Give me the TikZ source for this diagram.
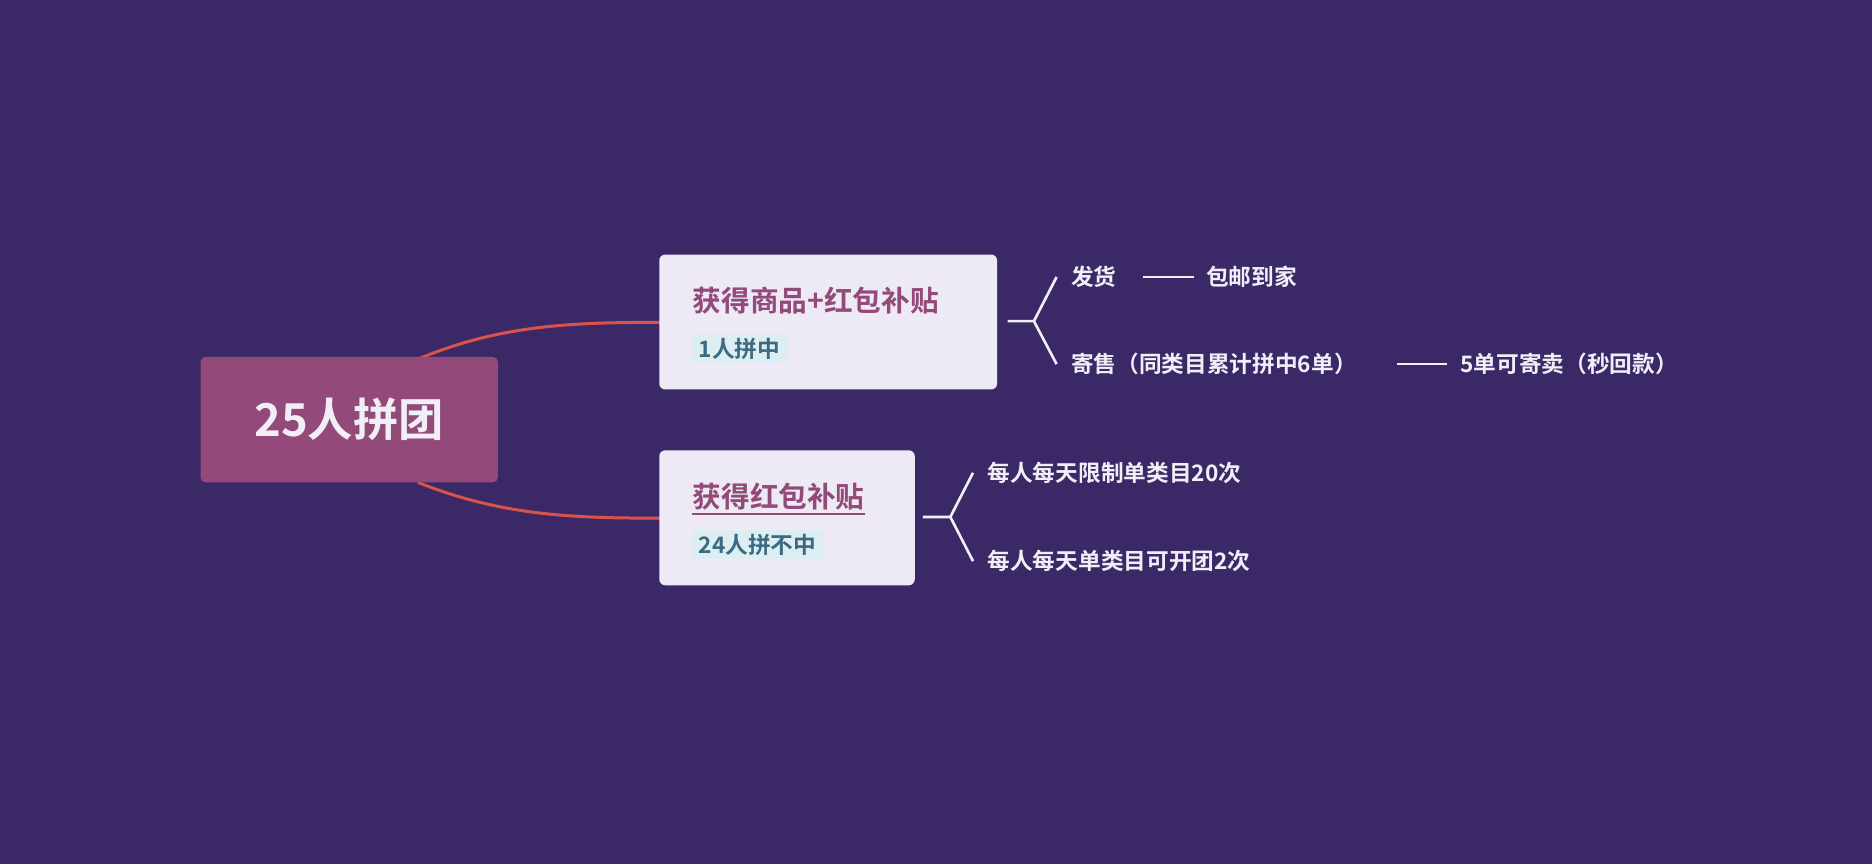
\documentclass[tikz,border=0pt]{standalone}
\usepackage{fontspec}
\setmainfont{Noto Sans CJK SC}[BoldFont={* Bold}]
\definecolor{bg}{HTML}{3A2966}
\definecolor{rootc}{HTML}{934A7A}
\definecolor{boxc}{HTML}{EDE9F5}
\definecolor{tagc}{HTML}{DCEEF2}
\definecolor{tagt}{HTML}{3C6A82}
\definecolor{linec}{HTML}{D9534A}
\definecolor{leaf}{HTML}{F2EEF8}
\begin{document}
\begin{tikzpicture}[x=1pt,y=-1pt,
  box/.style={draw=none,fill=boxc,rounded corners=5pt,anchor=north west},
  title/.style={anchor=west,text=rootc,font=\fontsize{24}{28}\selectfont\bfseries,inner sep=0},
  tag/.style={anchor=west,fill=tagc,text=tagt,font=\fontsize{19}{22}\selectfont\bfseries,inner xsep=6pt,inner ysep=3pt,rounded corners=2pt},
  lf/.style={anchor=west,text=leaf,font=\fontsize{19}{22}\selectfont\bfseries,inner sep=0},
  wl/.style={draw=leaf,line width=2.2pt},
  cl/.style={draw=linec,line width=2.5pt}]
\fill[bg] (0,0) rectangle (1568,724);
\useasboundingbox (0,0) rectangle (1568,724);
% curves
\coordinate (r1) at (352,300); \coordinate (r2) at (350,404);
\coordinate (b1) at (553,270); \coordinate (b2) at (553,434);
\draw[cl] (r1) .. controls (420,272) and (480,270) .. (b1);
\draw[cl] (r2) .. controls (420,432) and (480,434) .. (b2);
% root
\node[fill=rootc,rounded corners=4pt,minimum width=249pt,minimum height=105pt,text=leaf,font=\fontsize{38}{44}\selectfont\bfseries] (root) at (292.5,351.5) {25人拼团};
% box1
\node[box,minimum width=283pt,minimum height=113pt] (box1) at (552,213) {};
\node[title] (t1) at (580,252) {获得商品+红包补贴};
\node[tag] (g1) at (579,292) {1人拼中};
% box2
\node[box,minimum width=214pt,minimum height=113pt] (box2) at (552,377) {};
\node[title] (t2) at (580,416) {获得红包补贴};
\draw[draw=rootc,line width=1.5pt] ([yshift=-3pt]t2.south west) -- ([yshift=-3pt]t2.south east);
\node[tag] (g2) at (579,456) {24人拼不中};
% bracket 1
\coordinate (k1a) at (844,269); \coordinate (k1b) at (866,269);
\coordinate (k1u) at (885,232); \coordinate (k1d) at (885,305);
\draw[wl] (k1a) -- (k1b) -- (k1u); \draw[wl] (k1b) -- (k1d);
\node[lf] (l1) at (897,232) {发货};
\node[lf] (l1b) at (1010,232) {包邮到家};
\coordinate (s1) at (957,232); \coordinate (e1) at (1000,232);
\draw[wl] (s1) -- (e1);
\node[lf] (l2) at (897,305) {寄售（同类目累计拼中6单）};
\node[lf] (l2b) at (1223,305) {5单可寄卖（秒回款）};
\coordinate (s2) at (1170,305); \coordinate (e2) at (1212,305);
\draw[wl] (s2) -- (e2);
% bracket 2
\coordinate (k2a) at (773,433); \coordinate (k2b) at (796,433);
\coordinate (k2u) at (815,396); \coordinate (k2d) at (815,470);
\draw[wl] (k2a) -- (k2b) -- (k2u); \draw[wl] (k2b) -- (k2d);
\node[lf] (l3) at (827,396) {每人每天限制单类目20次};
\node[lf] (l4) at (827,470) {每人每天单类目可开团2次};
\end{tikzpicture}
\end{document}
